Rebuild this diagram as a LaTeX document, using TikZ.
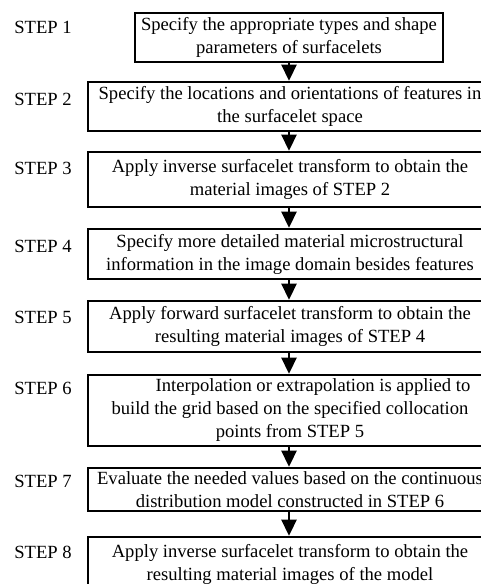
\documentclass[tikz,border=0pt]{standalone}
\usepackage{fontspec}
\setmainfont{Liberation Serif}
\usetikzlibrary{arrows.meta}

\begin{document}
\begin{tikzpicture}[x=1pt, y=-1pt]

\tikzset{stepbox/.style={draw, rectangle, line width=2.6pt, inner xsep=0pt, inner ysep=0pt, align=center, font=\fontsize{18.6}{23}\selectfont}}
\tikzset{steplabel/.style={rectangle, font=\fontsize{18.6}{23}\selectfont}}
\tikzset{steparrow/.style={line width=2.6pt, -{Triangle[width=15pt, length=16pt]}}}

\useasboundingbox (0, 0) rectangle (480, 584);

% step labels
\node[steplabel] at (43,  27) (l1) {STEP 1};
\node[steplabel] at (43,  99) (l2) {STEP 2};
\node[steplabel] at (43, 168) (l3) {STEP 3};
\node[steplabel] at (43, 246) (l4) {STEP 4};
\node[steplabel] at (43, 317) (l5) {STEP 5};
\node[steplabel] at (43, 388) (l6) {STEP 6};
\node[steplabel] at (43, 481) (l7) {STEP 7};
\node[steplabel] at (43, 552) (l8) {STEP 8};

% boxes
\node[stepbox, minimum width=308, minimum height=49] at (289, 37.5) (b1) {Specify the appropriate types and shape\\parameters of surfacelets};
\node[stepbox, minimum width=404, minimum height=49] at (290, 106.5) (b2) {Specify the locations and orientations of features in\\the surfacelet space};
\node[stepbox, minimum width=404, minimum height=55] at (290, 179.5) (b3) {Apply inverse surfacelet transform to obtain the\\material images of STEP 2};
\node[stepbox, minimum width=404, minimum height=50] at (290, 254) (b4) {Specify more detailed material microstructural\\information in the image domain besides features};
\node[stepbox, minimum width=404, minimum height=51] at (290, 326.5) (b5) {Apply forward surfacelet transform to obtain the\\resulting material images of STEP 4};
\node[stepbox, minimum width=404, minimum height=71] at (290, 410.5) (b6) {\hspace*{46pt}Interpolation or extrapolation is applied to\\build the grid based on the specified collocation\\points from STEP 5};
\node[stepbox, minimum width=404, minimum height=43] at (290, 489.5) (b7) {Evaluate the needed values based on the continuous\\distribution model constructed in STEP 6};
\node[stepbox, minimum width=404, minimum height=54] at (290, 564) (b8) {Apply inverse surfacelet transform to obtain the\\resulting material images of the model};

% arrows
\draw[steparrow] (b1.south -| 289, 0) -- (b2.north -| 289, 0);
\draw[steparrow] (b2.south -| 289, 0) -- (b3.north -| 289, 0);
\draw[steparrow] (b3.south -| 289, 0) -- (b4.north -| 289, 0);
\draw[steparrow] (b4.south -| 289, 0) -- (b5.north -| 289, 0);
\draw[steparrow] (b5.south -| 289, 0) -- (b6.north -| 289, 0);
\draw[steparrow] (b6.south -| 289, 0) -- (b7.north -| 289, 0);
\draw[steparrow] (b7.south -| 289, 0) -- (b8.north -| 289, 0);

\end{tikzpicture}
\end{document}
